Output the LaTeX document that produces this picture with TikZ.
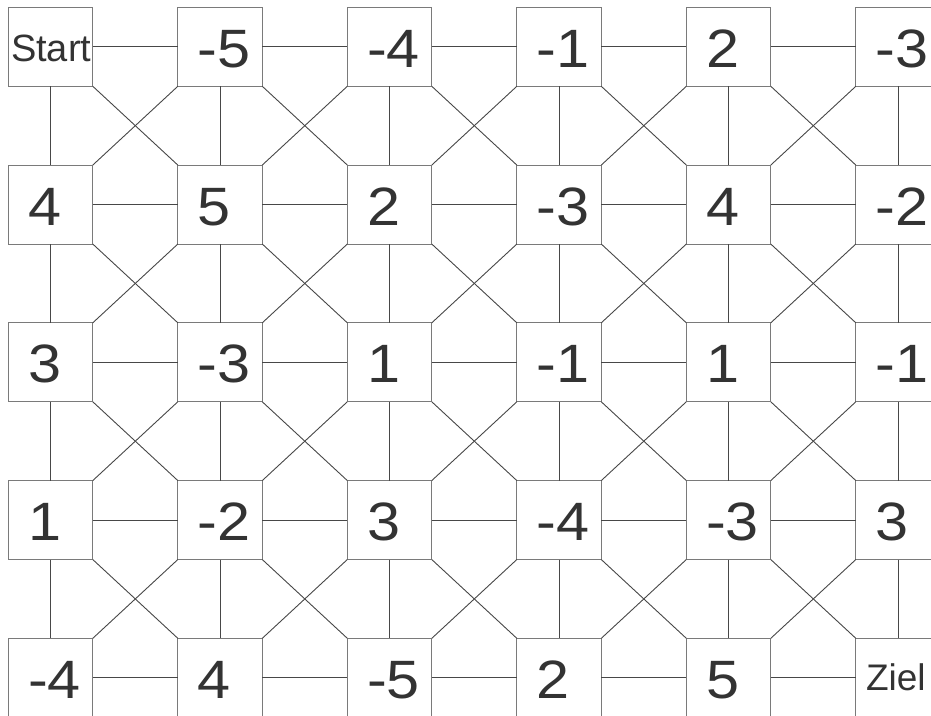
\documentclass[tikz,border=0pt]{standalone}
\usepackage{fontspec}
\setmainfont{Liberation Sans}
\usetikzlibrary{calc}
\definecolor{boxgray}{HTML}{7A7A7A}
\definecolor{linegray}{HTML}{474747}
\definecolor{txtgray}{HTML}{333333}
\tikzset{
  cell/.style={draw=boxgray, line width=1.1pt, minimum width=84.5pt, minimum height=79pt, inner sep=0pt, outer sep=0pt, anchor=north west},
  conn/.style={draw=linegray, line width=0.9pt},
  numtxt/.style={anchor=base west, inner sep=0pt, text=txtgray, font=\fontsize{54}{54}\selectfont},
  wordtxt/.style={anchor=base west, inner sep=0pt, text=txtgray, font=\fontsize{38}{38}\selectfont}
}
\begin{document}
\begin{tikzpicture}[x=1pt,y=-1pt]
\useasboundingbox (0,0) rectangle (931,715);
\clip (0,0) rectangle (931,715);
% boxes
\foreach \i in {0,...,5}{
  \foreach \j in {0,...,4}{
    \node[cell] (b-\i-\j) at ({8.3+169.5*\i},{7.3+157.75*\j}) {};
  }
}
% connectors
\foreach \i [evaluate=\i as \n using int(\i+1)] in {0,...,4}{
  \foreach \j in {0,...,4}{
    \draw[conn] (b-\i-\j.east) -- (b-\n-\j.west);
  }
}
\foreach \i in {0,...,5}{
  \foreach \j [evaluate=\j as \m using int(\j+1)] in {0,...,3}{
    \draw[conn] (b-\i-\j.south) -- (b-\i-\m.north);
  }
}
\foreach \i [evaluate=\i as \n using int(\i+1)] in {0,...,4}{
  \foreach \j [evaluate=\j as \m using int(\j+1)] in {0,...,3}{
    \draw[conn] (b-\i-\j.south east) -- (b-\n-\m.north west);
    \draw[conn] (b-\n-\j.south west) -- (b-\i-\m.north east);
  }
}
% texts
\node[wordtxt] (t-0-0) at ($(b-0-0.north west)+(2.5,54.4)$) {Start};
\node[wordtxt, font=\fontsize{37}{37}\selectfont] (t-5-4) at ($(b-5-4.north west)+(10,51.7)$) {Ziel};
\foreach \i/\j/\v in {
  1/0/-5, 2/0/-4, 3/0/-1, 4/0/2, 5/0/-3,
  0/1/4, 1/1/5, 2/1/2, 3/1/-3, 4/1/4, 5/1/-2,
  0/2/3, 1/2/-3, 2/2/1, 3/2/-1, 4/2/1, 5/2/-1,
  0/3/1, 1/3/-2, 2/3/3, 3/3/-4, 4/3/-3, 5/3/3,
  0/4/-4, 1/4/4, 2/4/-5, 3/4/2, 4/4/5}{
  \node[numtxt] (t-\i-\j) at ($(b-\i-\j.north west)+(19.5,60)$) {\scalebox{1.1}[1]{\v}};
}
\end{tikzpicture}
\end{document}
